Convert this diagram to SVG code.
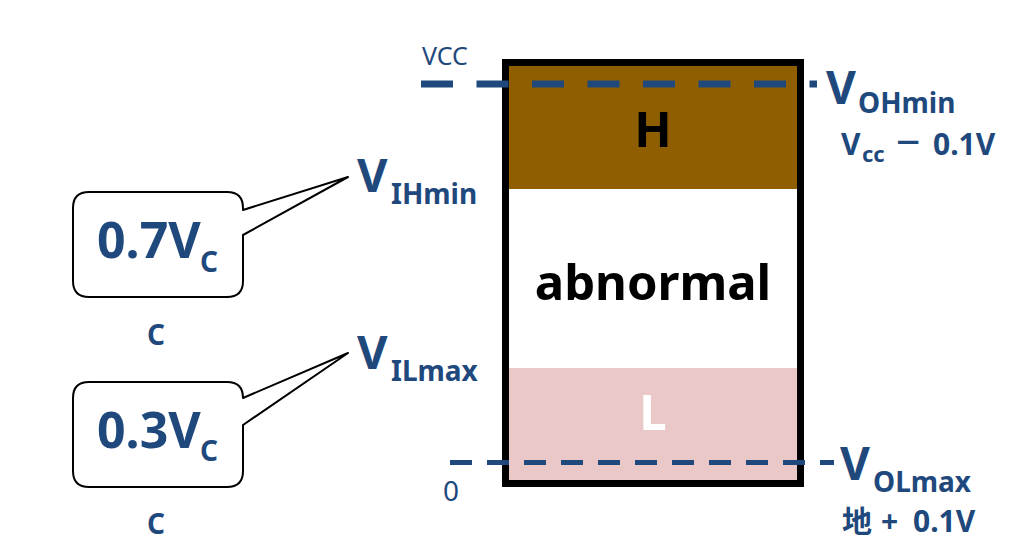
<svg xmlns="http://www.w3.org/2000/svg" width="1024" height="556" viewBox="0 0 1024 556">
<style>
.lbl{font-family:"Noto Sans","Noto Sans CJK SC",sans-serif;font-weight:bold;fill:#1F497D}
.thin{font-family:"Noto Sans",sans-serif;font-weight:normal;fill:#1F497D}
.big{font-family:"Noto Sans",sans-serif;font-weight:bold;font-size:49px;text-anchor:middle}
.call{fill:#fff;stroke:#000;stroke-width:2;stroke-linejoin:round}
</style>
<rect width="1024" height="556" fill="#fff"/>
<g id="bar">
<rect x="509" y="66" width="288" height="123" fill="#8E5E00"/>
<rect x="509" y="189" width="288" height="179" fill="#fff"/>
<rect x="509" y="368" width="288" height="112" fill="#EBC8C8"/>
<rect x="505.5" y="62.5" width="295" height="421" fill="none" stroke="#000" stroke-width="7"/>
<text class="big" x="653" y="147" fill="#000">H</text>
<text class="big" x="653" y="300" fill="#000" font-size="50">abnormal</text>
<text class="big" x="653" y="430" fill="#fff">L</text>
</g>
<g id="connectors">
<line x1="421" y1="84" x2="817" y2="84" stroke="#1F497D" stroke-width="7" stroke-dasharray="32 23.5"/>
<line x1="450" y1="462.5" x2="834" y2="462.5" stroke="#1F497D" stroke-width="5" stroke-dasharray="22 15"/>
</g>
<g id="vcc-label"><text class="thin" x="422" y="65" font-size="25">VCC</text></g>
<g id="zero-label"><text class="thin" x="443" y="501" font-size="28">0</text></g>
<g id="voh">
<text class="lbl" x="826" y="104" font-size="46">V</text>
<text class="lbl" x="858" y="113" font-size="28">OHmin</text>
<text class="lbl" x="841" y="155" font-size="30">V</text>
<text class="lbl" x="862" y="162" font-size="22">cc</text>
<text class="lbl" font-size="30" transform="translate(896,153) scale(1.4,1)">−</text>
<text class="lbl" x="933" y="155" font-size="30">0.1V</text>
</g>
<g id="vol">
<text class="lbl" x="840" y="480" font-size="46">V</text>
<text class="lbl" x="873" y="492" font-size="28">OLmax</text>
<text class="lbl" x="842" y="532" font-size="30">地</text>
<text class="lbl" x="881" y="532" font-size="30">+</text>
<text class="lbl" x="913" y="532" font-size="30">0.1V</text>
</g>
<g id="vih">
<text class="lbl" x="357" y="192" font-size="47">V</text>
<text class="lbl" x="391" y="204" font-size="28">IHmin</text>
</g>
<g id="vil">
<text class="lbl" x="357" y="369" font-size="47">V</text>
<text class="lbl" x="391" y="381" font-size="28">ILmax</text>
</g>
<g id="callout-high">
<path class="call" d="M89,192 H227 Q243,192 243,208 V210 L348,177 L243,235 V281 Q243,297 227,297 H89 Q73,297 73,281 V208 Q73,192 89,192 Z"/>
<text class="lbl" x="97" y="258" font-size="50">0.7V</text>
<text class="lbl" x="200" y="272" font-size="28">C</text>
<text class="lbl" x="147" y="345" font-size="28">C</text>
</g>
<g id="callout-low">
<path class="call" d="M89,382 H227 Q243,382 243,398 L348,353 L243,425 V471 Q243,487 227,487 H89 Q73,487 73,471 V398 Q73,382 89,382 Z"/>
<text class="lbl" x="97" y="448" font-size="50">0.3V</text>
<text class="lbl" x="200" y="461" font-size="28">C</text>
<text class="lbl" x="147" y="534" font-size="28">C</text>
</g>
</svg>
